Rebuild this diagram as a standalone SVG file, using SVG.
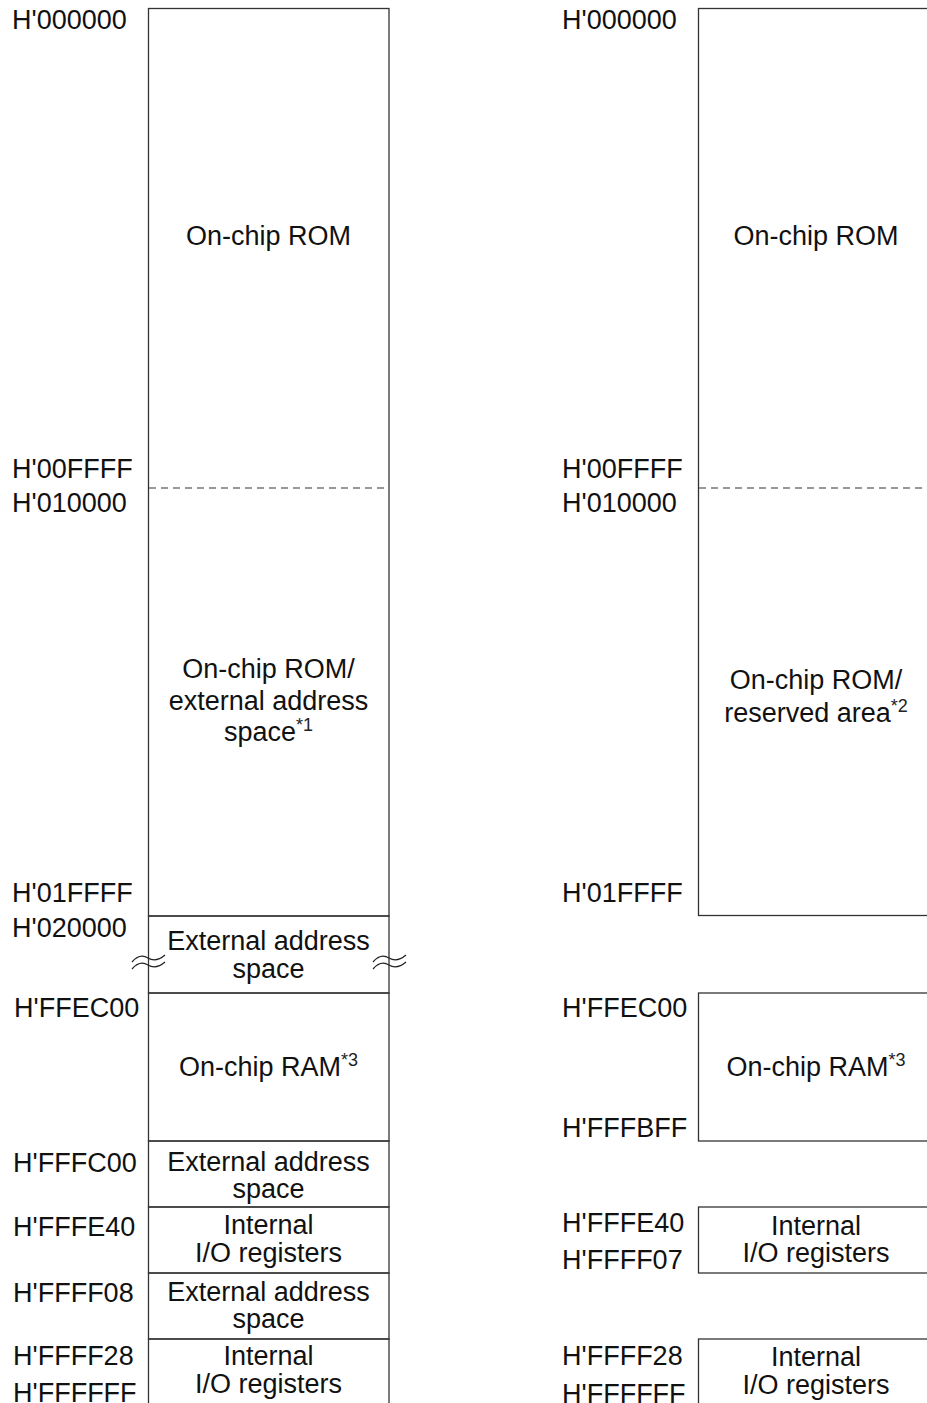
<svg xmlns="http://www.w3.org/2000/svg" width="927" height="1403" viewBox="0 0 927 1403">
<style>
text{font-family:"Liberation Sans",Arial,sans-serif;font-size:27px;fill:#111}
.c{text-anchor:middle}
.sup{font-size:18px;fill:#222}
.box{fill:none;stroke:#333;stroke-width:1.3}
.dash{stroke:#777;stroke-width:1.3;stroke-dasharray:7,5;fill:none}
.wave{fill:none;stroke:#222;stroke-width:1.2}
</style>
<rect width="927" height="1403" fill="#fff"/>
<g id="left-map">
<g id="l-rom"><rect class="box" x="148.5" y="8.5" width="240.5" height="907.5"/>
<text class="c" x="268.5" y="245">On-chip ROM</text>
<text class="c" x="268.5" y="678">On-chip ROM/</text>
<text class="c" x="268.5" y="710">external address</text>
<text class="c" x="268.5" y="741">space<tspan class="sup" dy="-10">*1</tspan></text></g>
<g id="l-ext1"><rect class="box" x="148.5" y="916" width="240.5" height="77"/>
<text class="c" x="268.5" y="950">External address</text>
<text class="c" x="268.5" y="978">space</text></g>
<g id="l-ram"><rect class="box" x="148.5" y="993" width="240.5" height="148"/>
<text class="c" x="268.5" y="1076">On-chip RAM<tspan class="sup" dy="-10">*3</tspan></text></g>
<g id="l-ext2"><rect class="box" x="148.5" y="1141" width="240.5" height="66"/>
<text class="c" x="268.5" y="1171">External address</text>
<text class="c" x="268.5" y="1198">space</text></g>
<g id="l-io1"><rect class="box" x="148.5" y="1207" width="240.5" height="66"/>
<text class="c" x="268.5" y="1234">Internal</text>
<text class="c" x="268.5" y="1262">I/O registers</text></g>
<g id="l-ext3"><rect class="box" x="148.5" y="1273" width="240.5" height="66"/>
<text class="c" x="268.5" y="1301">External address</text>
<text class="c" x="268.5" y="1328">space</text></g>
<g id="l-io2"><rect class="box" x="148.5" y="1339" width="240.5" height="80"/>
<text class="c" x="268.5" y="1365">Internal</text>
<text class="c" x="268.5" y="1393">I/O registers</text></g>
<g id="l-labels">
<text x="12" y="29">H'000000</text>
<text x="12" y="478">H'00FFFF</text>
<text x="12" y="512">H'010000</text>
<text x="12" y="902">H'01FFFF</text>
<text x="12" y="937">H'020000</text>
<text x="14" y="1017">H'FFEC00</text>
<text x="13" y="1172">H'FFFC00</text>
<text x="13" y="1236">H'FFFE40</text>
<text x="13" y="1302">H'FFFF08</text>
<text x="13" y="1365">H'FFFF28</text>
<text x="13" y="1402">H'FFFFFF</text>
</g>
</g>
<g id="right-map">
<g id="r-rom"><rect class="box" x="698.5" y="8.5" width="240" height="907"/>
<text class="c" x="816" y="245">On-chip ROM</text>
<text class="c" x="816" y="689">On-chip ROM/</text>
<text class="c" x="816" y="722">reserved area<tspan class="sup" dy="-10">*2</tspan></text></g>
<g id="r-ram"><rect class="box" x="698.5" y="993" width="240" height="148"/>
<text class="c" x="816" y="1076">On-chip RAM<tspan class="sup" dy="-10">*3</tspan></text></g>
<g id="r-io1"><rect class="box" x="698.5" y="1207" width="240" height="66"/>
<text class="c" x="816" y="1235">Internal</text>
<text class="c" x="816" y="1262">I/O registers</text></g>
<g id="r-io2"><rect class="box" x="698.5" y="1339" width="240" height="80"/>
<text class="c" x="816" y="1366">Internal</text>
<text class="c" x="816" y="1394">I/O registers</text></g>
<g id="r-labels">
<text x="562" y="29">H'000000</text>
<text x="562" y="478">H'00FFFF</text>
<text x="562" y="512">H'010000</text>
<text x="562" y="902">H'01FFFF</text>
<text x="562" y="1017">H'FFEC00</text>
<text x="562" y="1137">H'FFFBFF</text>
<text x="562" y="1232">H'FFFE40</text>
<text x="562" y="1269">H'FFFF07</text>
<text x="562" y="1365">H'FFFF28</text>
<text x="562" y="1403">H'FFFFFF</text>
</g>
</g>
<g id="connectors">
<line class="dash" x1="149" y1="488" x2="389" y2="488"/>
<line class="dash" x1="699" y1="488" x2="927" y2="488"/>
<path class="wave" d="M132,962 C138,955 143,955 148,958 S158,961 165,955"/>
<path class="wave" d="M132,969 C138,962 143,962 148,965 S158,968 165,962"/>
<path class="wave" d="M373,962 C379,955 384,955 389,958 S399,961 406,955"/>
<path class="wave" d="M373,969 C379,962 384,962 389,965 S399,968 406,962"/>
</g>
</svg>
